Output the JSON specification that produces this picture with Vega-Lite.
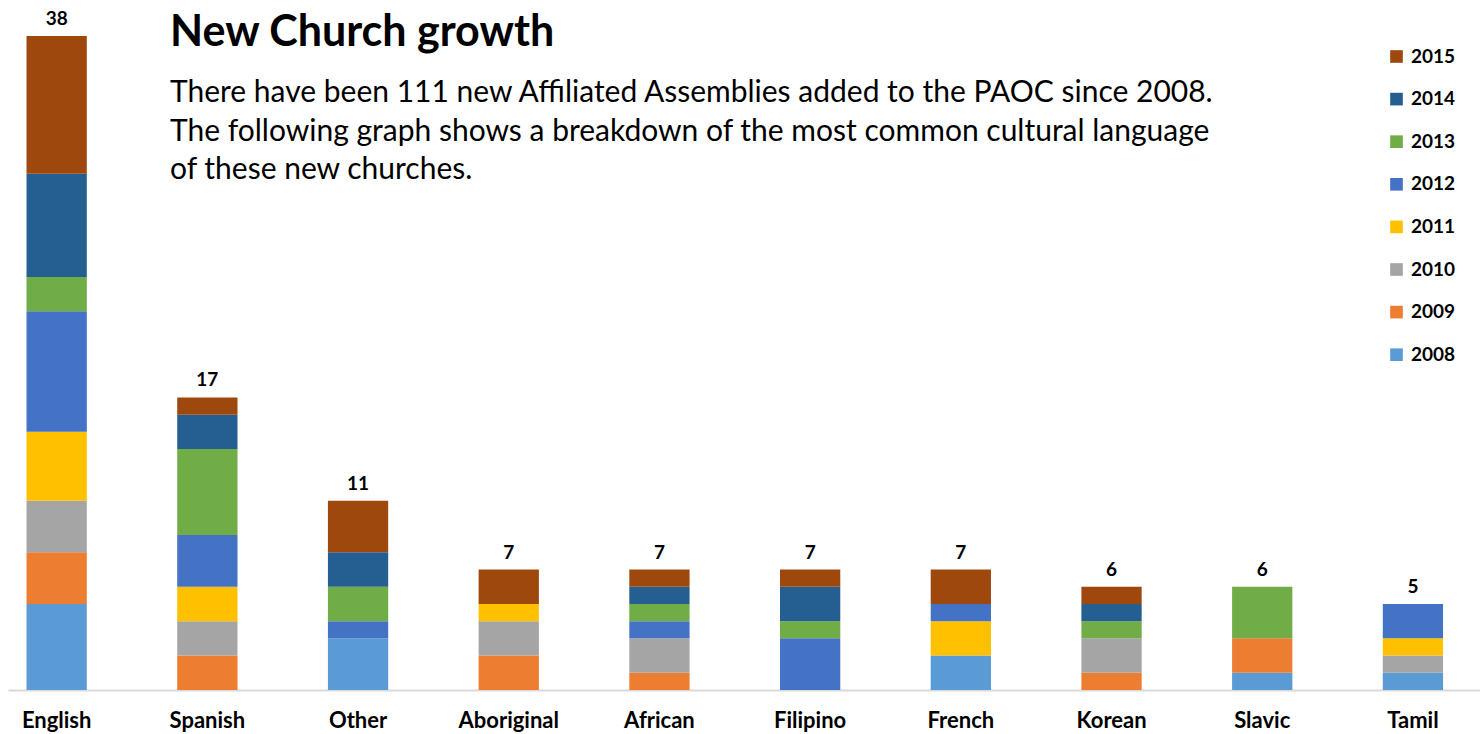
{
  "$schema": "https://vega.github.io/schema/vega-lite/v6.json",
  "width": 1472,
  "height": 654,
  "autosize": {"type": "none"},
  "padding": {"left": 8, "top": 36, "right": 0, "bottom": 44},
  "background": "white",
  "title": {
    "text": "New Church growth",
    "subtitle": [
      "There have been 111 new Affiliated Assemblies added to the PAOC since 2008.",
      "The following graph shows a breakdown of the most common cultural language",
      "of these new churches."
    ],
    "anchor": "start",
    "frame": "group",
    "dx": 162,
    "offset": -175,
    "font": "Lato",
    "fontSize": 43,
    "fontWeight": "bold",
    "color": "#000000",
    "subtitleFont": "Lato",
    "subtitleFontSize": 30,
    "subtitleColor": "#000000",
    "subtitleLineHeight": 38.5,
    "subtitlePadding": 23
  },
  "data": {
    "values": [
      {"language": "English", "year": "2008", "count": 5},
      {"language": "English", "year": "2009", "count": 3},
      {"language": "English", "year": "2010", "count": 3},
      {"language": "English", "year": "2011", "count": 4},
      {"language": "English", "year": "2012", "count": 7},
      {"language": "English", "year": "2013", "count": 2},
      {"language": "English", "year": "2014", "count": 6},
      {"language": "English", "year": "2015", "count": 8},
      {"language": "Spanish", "year": "2009", "count": 2},
      {"language": "Spanish", "year": "2010", "count": 2},
      {"language": "Spanish", "year": "2011", "count": 2},
      {"language": "Spanish", "year": "2012", "count": 3},
      {"language": "Spanish", "year": "2013", "count": 5},
      {"language": "Spanish", "year": "2014", "count": 2},
      {"language": "Spanish", "year": "2015", "count": 1},
      {"language": "Other", "year": "2008", "count": 3},
      {"language": "Other", "year": "2012", "count": 1},
      {"language": "Other", "year": "2013", "count": 2},
      {"language": "Other", "year": "2014", "count": 2},
      {"language": "Other", "year": "2015", "count": 3},
      {"language": "Aboriginal", "year": "2009", "count": 2},
      {"language": "Aboriginal", "year": "2010", "count": 2},
      {"language": "Aboriginal", "year": "2011", "count": 1},
      {"language": "Aboriginal", "year": "2015", "count": 2},
      {"language": "African", "year": "2009", "count": 1},
      {"language": "African", "year": "2010", "count": 2},
      {"language": "African", "year": "2012", "count": 1},
      {"language": "African", "year": "2013", "count": 1},
      {"language": "African", "year": "2014", "count": 1},
      {"language": "African", "year": "2015", "count": 1},
      {"language": "Filipino", "year": "2012", "count": 3},
      {"language": "Filipino", "year": "2013", "count": 1},
      {"language": "Filipino", "year": "2014", "count": 2},
      {"language": "Filipino", "year": "2015", "count": 1},
      {"language": "French", "year": "2008", "count": 2},
      {"language": "French", "year": "2011", "count": 2},
      {"language": "French", "year": "2012", "count": 1},
      {"language": "French", "year": "2015", "count": 2},
      {"language": "Korean", "year": "2009", "count": 1},
      {"language": "Korean", "year": "2010", "count": 2},
      {"language": "Korean", "year": "2013", "count": 1},
      {"language": "Korean", "year": "2014", "count": 1},
      {"language": "Korean", "year": "2015", "count": 1},
      {"language": "Slavic", "year": "2008", "count": 1},
      {"language": "Slavic", "year": "2009", "count": 2},
      {"language": "Slavic", "year": "2013", "count": 3},
      {"language": "Tamil", "year": "2008", "count": 1},
      {"language": "Tamil", "year": "2010", "count": 1},
      {"language": "Tamil", "year": "2011", "count": 1},
      {"language": "Tamil", "year": "2012", "count": 2}
    ]
  },
  "encoding": {
    "x": {
      "field": "language",
      "type": "nominal",
      "sort": ["English", "Spanish", "Other", "Aboriginal", "African", "Filipino", "French", "Korean", "Slavic", "Tamil"],
      "scale": {"paddingInner": 0.6, "paddingOuter": 0.184, "align": 0.334},
      "axis": {
        "title": null,
        "labelAngle": 0,
        "labelFont": "Lato",
        "labelFontWeight": "bold",
        "labelFontSize": 22,
        "labelColor": "#000000",
        "ticks": false,
        "labelPadding": 20,
        "domainColor": "#d9d9d9",
        "domainWidth": 2
      }
    }
  },
  "layer": [
    {
      "mark": {"type": "bar"},
      "encoding": {
        "y": {
          "field": "count",
          "type": "quantitative",
          "aggregate": "sum",
          "scale": {"domain": [0, 38], "nice": false},
          "axis": null
        },
        "color": {
          "field": "year",
          "type": "nominal",
          "scale": {
            "domain": ["2015", "2014", "2013", "2012", "2011", "2010", "2009", "2008"],
            "range": ["#9e480e", "#255e91", "#70ad47", "#4472c4", "#ffc000", "#a5a5a5", "#ed7d31", "#5b9bd5"]
          },
          "legend": {
            "orient": "none",
            "legendX": 1379,
            "legendY": 11,
            "title": null,
            "symbolType": "square",
            "symbolSize": 160,
            "symbolStrokeWidth": 0,
            "labelFont": "Lato",
            "labelFontSize": 19,
            "labelFontWeight": "bold",
            "labelColor": "#000000",
            "labelOffset": 5,
            "rowPadding": 22.6
          }
        },
        "order": {"field": "year", "type": "ordinal", "sort": "ascending"}
      }
    },
    {
      "mark": {"type": "text", "baseline": "alphabetic", "dy": -11, "font": "Lato", "fontSize": 19, "fontWeight": "bold", "color": "#000000"},
      "encoding": {
        "y": {"field": "count", "type": "quantitative", "aggregate": "sum"},
        "text": {"field": "count", "type": "quantitative", "aggregate": "sum"}
      }
    }
  ],
  "config": {
    "view": {"stroke": null},
    "axis": {"grid": false}
  }
}
